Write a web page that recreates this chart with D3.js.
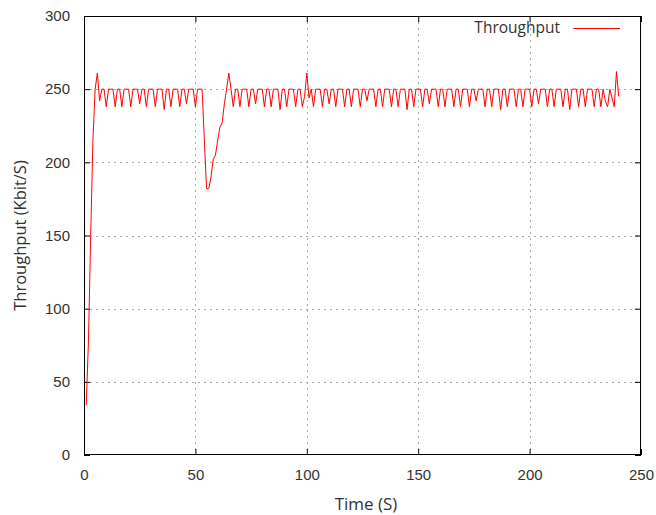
<!DOCTYPE html>
<html>
<head>
<meta charset="utf-8">
<script src="https://cdn.jsdelivr.net/npm/d3@7"></script>
<style>
  body { margin: 0; background: #fff; }
  svg { display: block; }
</style>
</head>
<body>
<svg id="chart" width="656" height="515"></svg>
<script>
// ---- data ----
const seriesName = "Throughput";
const startTime = 1;   // seconds, first sample
const sampleStep = 1;  // seconds between samples
const throughput = [
  34, 78, 150, 215, 250, 261, 242, 250, 250, 238,
  250, 250, 250, 238, 250, 250, 238, 250, 250, 250,
  238, 250, 250, 250, 240, 250, 250, 238, 250, 250,
  250, 238, 250, 250, 250, 236, 250, 250, 238, 250,
  250, 250, 238, 250, 250, 240, 250, 250, 250, 238,
  250, 250, 250, 216, 182, 182, 190, 202, 205, 215,
  224, 227, 240, 250, 261, 250, 238, 250, 250, 238,
  250, 250, 250, 238, 250, 250, 240, 250, 250, 250,
  238, 250, 250, 238, 250, 250, 250, 236, 250, 250,
  238, 250, 250, 250, 238, 250, 250, 238, 245, 261,
  244, 250, 238, 250, 250, 250, 238, 250, 250, 240,
  250, 250, 238, 250, 250, 250, 238, 250, 250, 238,
  250, 250, 250, 238, 250, 250, 242, 250, 250, 250,
  238, 250, 250, 238, 250, 250, 250, 238, 250, 250,
  238, 250, 250, 250, 236, 250, 250, 238, 250, 250,
  250, 238, 250, 250, 240, 250, 250, 250, 238, 250,
  250, 238, 250, 250, 250, 238, 250, 250, 238, 250,
  250, 250, 238, 250, 250, 242, 250, 250, 250, 238,
  250, 250, 238, 250, 250, 250, 236, 250, 250, 238,
  250, 250, 250, 238, 250, 250, 238, 250, 250, 250,
  238, 250, 250, 240, 250, 250, 250, 238, 250, 250,
  238, 250, 250, 250, 238, 250, 250, 236, 250, 250,
  250, 238, 250, 250, 238, 250, 250, 250, 238, 250,
  250, 238, 250, 242, 238, 250, 244, 238, 262, 245
];
const xTicks = [0, 50, 100, 150, 200, 250];
const yTicks = [0, 50, 100, 150, 200, 250, 300];
const xLabel = "Time (S)";
const yLabel = "Throughput (Kbit/S)";

// ---- layout ----
const svg = d3.select("#chart");
const L = 84, R = 641, T = 16, B = 455;
const x = d3.scaleLinear().domain([0, 250]).range([L, R]);
const y = d3.scaleLinear().domain([0, 300]).range([B, T]);
const tickFont = "'Liberation Sans', Arial, sans-serif";
const titleFont = "'Open Sans', 'DejaVu Sans', sans-serif";
const textColor = "#333";

// grid
const grid = svg.append("g").attr("stroke", "#a8a8a8").attr("stroke-width", 1)
  .attr("stroke-dasharray", "2,4").attr("fill", "none");
xTicks.slice(1, -1).forEach(v => {
  grid.append("line").attr("x1", Math.round(x(v)) + 0.5).attr("x2", Math.round(x(v)) + 0.5)
    .attr("y1", T).attr("y2", B);
});
yTicks.slice(1, -1).forEach(v => {
  grid.append("line").attr("y1", Math.round(y(v)) + 0.5).attr("y2", Math.round(y(v)) + 0.5)
    .attr("x1", L).attr("x2", R);
});

// axes (ticks inside, mirrored)
const axB = d3.axisBottom(x).tickValues(xTicks).tickSize(-6).tickPadding(14).tickFormat(d3.format("d"));
const axT = d3.axisTop(x).tickValues(xTicks).tickSize(-6).tickFormat("");
const axL = d3.axisLeft(y).tickValues(yTicks).tickSize(-6).tickPadding(14).tickFormat(d3.format("d"));
const axR = d3.axisRight(y).tickValues(yTicks).tickSize(-6).tickFormat("");

function style(g) {
  g.select(".domain").remove();
  g.selectAll(".tick line").attr("stroke", "#000");
  g.selectAll(".tick text").attr("fill", textColor).style("font-family", tickFont).style("font-size", "15px");
}
svg.append("g").attr("transform", `translate(0,${B})`).call(axB).call(style);
svg.append("g").attr("transform", `translate(0,${T})`).call(axT).call(style);
svg.append("g").attr("transform", `translate(${L},0)`).call(axL).call(style);
svg.append("g").attr("transform", `translate(${R},0)`).call(axR).call(style);

// data line
const pts = throughput.map((v, i) => ({ t: startTime + i * sampleStep, v }));
svg.append("path").datum(pts)
  .attr("fill", "none").attr("stroke", "#ff0000").attr("stroke-width", 1)
  .attr("d", d3.line().x(d => x(d.t)).y(d => y(d.v)));

// frame
svg.append("rect").attr("x", L + 0.5).attr("y", T + 0.5)
  .attr("width", R - L - 1).attr("height", B - T - 1)
  .attr("fill", "none").attr("stroke", "#000").attr("stroke-width", 1);

// legend
svg.append("text").attr("x", 560).attr("y", 33).attr("text-anchor", "end")
  .attr("fill", textColor).style("font-family", titleFont).style("font-size", "15.5px").text(seriesName);
svg.append("line").attr("x1", 573).attr("x2", 620).attr("y1", 28.5).attr("y2", 28.5)
  .attr("stroke", "#ff0000").attr("stroke-width", 1);

// axis titles
svg.append("text").attr("x", 366).attr("y", 510).attr("text-anchor", "middle")
  .attr("fill", textColor).style("font-family", titleFont).style("font-size", "17px").text(xLabel);
svg.append("text").attr("transform", `translate(26,${(T + B) / 2}) rotate(-90)`)
  .attr("text-anchor", "middle")
  .attr("fill", textColor).style("font-family", titleFont).style("font-size", "16.5px").text(yLabel);
</script>
</body>
</html>
